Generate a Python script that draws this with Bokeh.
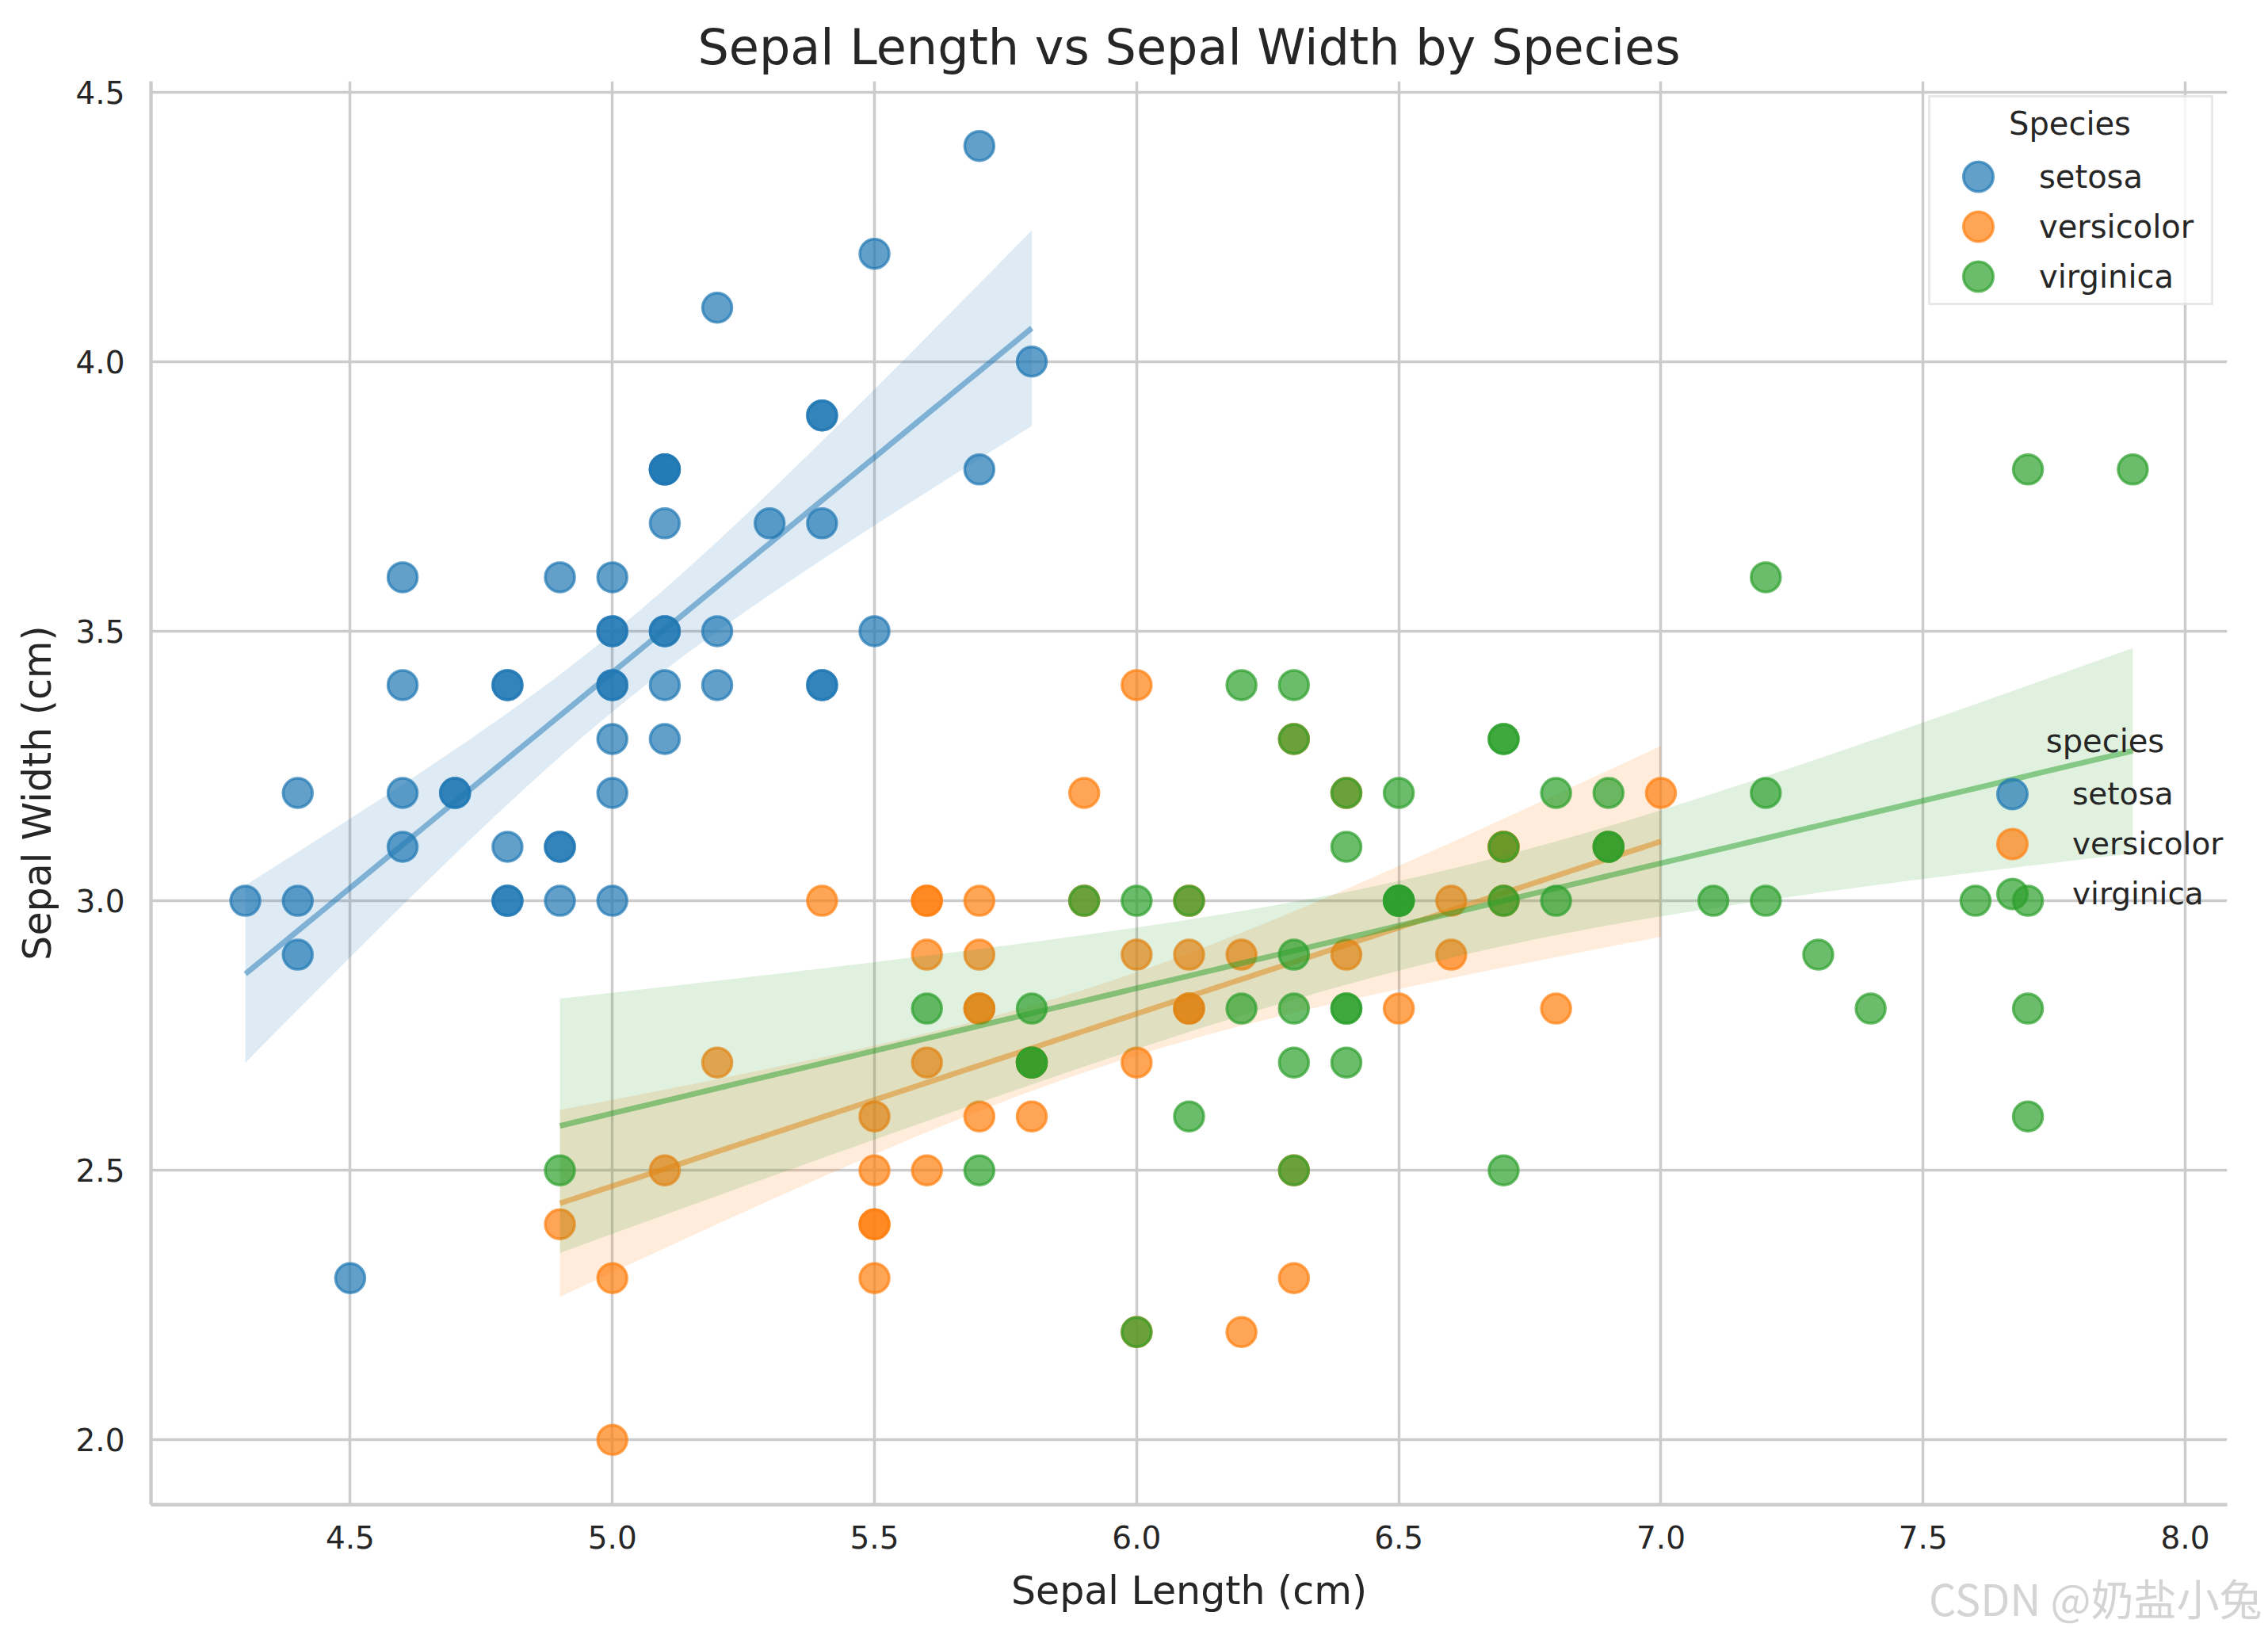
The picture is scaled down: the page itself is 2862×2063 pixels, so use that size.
import numpy as np
from bokeh.plotting import figure
from bokeh.models import FixedTicker, Legend, LegendItem, Label, Range1d, Title
from bokeh.embed import file_html
from bokeh.resources import INLINE

# ---------------- data (Iris: sepal length / sepal width) ----------------
species = ["setosa", "versicolor", "virginica"]
colors = ["#1f77b4", "#ff7f0e", "#2ca02c"]

setosa_length = [5.1, 4.9, 4.7, 4.6, 5.0, 5.4, 4.6, 5.0, 4.4, 4.9, 5.4, 4.8, 4.8, 4.3, 5.8,
                 5.7, 5.4, 5.1, 5.7, 5.1, 5.4, 5.1, 4.6, 5.1, 4.8, 5.0, 5.0, 5.2, 5.2, 4.7,
                 4.8, 5.4, 5.2, 5.5, 4.9, 5.0, 5.5, 4.9, 4.4, 5.1, 5.0, 4.5, 4.4, 5.0, 5.1,
                 4.8, 5.1, 4.6, 5.3, 5.0]
setosa_width = [3.5, 3.0, 3.2, 3.1, 3.6, 3.9, 3.4, 3.4, 2.9, 3.1, 3.7, 3.4, 3.0, 3.0, 4.0,
                4.4, 3.9, 3.5, 3.8, 3.8, 3.4, 3.7, 3.6, 3.3, 3.4, 3.0, 3.4, 3.5, 3.4, 3.2,
                3.1, 3.4, 4.1, 4.2, 3.1, 3.2, 3.5, 3.6, 3.0, 3.4, 3.5, 2.3, 3.2, 3.5, 3.8,
                3.0, 3.8, 3.2, 3.7, 3.3]

versicolor_length = [7.0, 6.4, 6.9, 5.5, 6.5, 5.7, 6.3, 4.9, 6.6, 5.2, 5.0, 5.9, 6.0, 6.1, 5.6,
                     6.7, 5.6, 5.8, 6.2, 5.6, 5.9, 6.1, 6.3, 6.1, 6.4, 6.6, 6.8, 6.7, 6.0, 5.7,
                     5.5, 5.5, 5.8, 6.0, 5.4, 6.0, 6.7, 6.3, 5.6, 5.5, 5.5, 6.1, 5.8, 5.0, 5.6,
                     5.7, 5.7, 6.2, 5.1, 5.7]
versicolor_width = [3.2, 3.2, 3.1, 2.3, 2.8, 2.8, 3.3, 2.4, 2.9, 2.7, 2.0, 3.0, 2.2, 2.9, 2.9,
                    3.1, 3.0, 2.7, 2.2, 2.5, 3.2, 2.8, 2.5, 2.8, 2.9, 3.0, 2.8, 3.0, 2.9, 2.6,
                    2.4, 2.4, 2.7, 2.7, 3.0, 3.4, 3.1, 2.3, 3.0, 2.5, 2.6, 3.0, 2.6, 2.3, 2.7,
                    3.0, 2.9, 2.9, 2.5, 2.8]

virginica_length = [6.3, 5.8, 7.1, 6.3, 6.5, 7.6, 4.9, 7.3, 6.7, 7.2, 6.5, 6.4, 6.8, 5.7, 5.8,
                    6.4, 6.5, 7.7, 7.7, 6.0, 6.9, 5.6, 7.7, 6.3, 6.7, 7.2, 6.2, 6.1, 6.4, 7.2,
                    7.4, 7.9, 6.4, 6.3, 6.1, 7.7, 6.3, 6.4, 6.0, 6.9, 6.7, 6.9, 5.8, 6.8, 6.7,
                    6.7, 6.3, 6.5, 6.2, 5.9]
virginica_width = [3.3, 2.7, 3.0, 2.9, 3.0, 3.0, 2.5, 2.9, 2.5, 3.6, 3.2, 2.7, 3.0, 2.5, 2.8,
                   3.2, 3.0, 3.8, 2.6, 2.2, 3.2, 2.8, 2.8, 2.7, 3.3, 3.2, 2.8, 3.0, 2.8, 3.0,
                   2.8, 3.8, 2.8, 2.8, 2.6, 3.0, 3.4, 3.1, 3.0, 3.1, 3.1, 3.1, 2.7, 3.2, 3.3,
                   3.0, 2.5, 3.0, 3.4, 3.0]

x_ticks = [4.5, 5.0, 5.5, 6.0, 6.5, 7.0, 7.5, 8.0]
x_tick_labels = ["4.5", "5.0", "5.5", "6.0", "6.5", "7.0", "7.5", "8.0"]
y_ticks = [2.0, 2.5, 3.0, 3.5, 4.0, 4.5]
y_tick_labels = ["2.0", "2.5", "3.0", "3.5", "4.0", "4.5"]

lengths = [setosa_length, versicolor_length, virginica_length]
widths = [setosa_width, versicolor_width, virginica_width]

# ---------------- styling ----------------
FONT = "DejaVu Sans"
TEXT = "#262626"
GRID = "#cccccc"
T975 = 2.0106  # t quantile, 48 dof, 95% CI

all_x = np.concatenate([np.array(a) for a in lengths])
all_y = np.concatenate([np.array(a) for a in widths])
xpad = 0.05 * (all_x.max() - all_x.min())
ypad = 0.05 * (all_y.max() - all_y.min())

p = figure(frame_width=2620, frame_height=1796,
           min_border_left=190, min_border_right=52, min_border_top=102, min_border_bottom=165,
           x_range=Range1d(all_x.min() - xpad, all_x.max() + xpad),
           y_range=Range1d(all_y.min() - ypad, all_y.max() + ypad),
           output_backend="svg", toolbar_location=None,
           background_fill_color="white", border_fill_color="white")
p.outline_line_color = None

p.title.text = "Sepal Length vs Sepal Width by Species"
p.title.text_font = FONT
p.title.text_font_size = "62px"
p.title.text_font_style = "normal"
p.title.text_color = TEXT
p.title.align = "center"
p.title.standoff = 14

p.xaxis.axis_label = "Sepal Length (cm)"
p.yaxis.axis_label = "Sepal Width (cm)"
p.xaxis.ticker = FixedTicker(ticks=x_ticks)
p.yaxis.ticker = FixedTicker(ticks=y_ticks)
p.xaxis.major_label_overrides = dict(zip(x_ticks, x_tick_labels))
p.yaxis.major_label_overrides = dict(zip(y_ticks, y_tick_labels))
p.xgrid.ticker = FixedTicker(ticks=x_ticks)
p.ygrid.ticker = FixedTicker(ticks=y_ticks)
for ax in (p.xaxis, p.yaxis):
    ax.axis_label_text_font = FONT
    ax.axis_label_text_font_size = "49px"
    ax.axis_label_text_font_style = "normal"
    ax.axis_label_text_color = TEXT
    ax.major_label_text_font = FONT
    ax.major_label_text_font_size = "39px"
    ax.major_label_text_color = TEXT
    ax.major_tick_line_color = None
    ax.minor_tick_line_color = None
    ax.major_tick_out = 0
    ax.major_tick_in = 0
    ax.axis_line_color = GRID
    ax.axis_line_width = 4.4
p.xaxis.major_label_standoff = 26
p.yaxis.major_label_standoff = 33
p.xaxis.axis_label_standoff = 22
p.yaxis.axis_label_standoff = 16
for g in (p.xgrid, p.ygrid):
    g.grid_line_color = GRID
    g.grid_line_width = 3.5

# ---------------- data marks ----------------
point_renderers = []
for xs_list, ys_list, c in zip(lengths, widths, colors):
    x = np.array(xs_list)
    y = np.array(ys_list)
    r = p.ellipse(x, y, width=37, height=37, width_units="screen", height_units="screen",
                  fill_color=c, fill_alpha=0.7, line_color=c, line_alpha=0.7, line_width=3.5)
    point_renderers.append(r)
    # least squares fit with 95% confidence band
    n = len(x)
    b, a = np.polyfit(x, y, 1)
    resid = y - (a + b * x)
    s = np.sqrt(np.sum(resid ** 2) / (n - 2))
    sxx = np.sum((x - x.mean()) ** 2)
    grid_x = np.linspace(x.min(), x.max(), 100)
    yhat = a + b * grid_x
    se = s * np.sqrt(1.0 / n + (grid_x - x.mean()) ** 2 / sxx)
    p.varea(x=grid_x, y1=yhat - T975 * se, y2=yhat + T975 * se,
            fill_color=c, fill_alpha=0.15)
    p.line(grid_x, yhat, line_color=c, line_alpha=0.5, line_width=7)

# ---------------- legends ----------------
legend_in = Legend(
    items=[LegendItem(label=s_, renderers=[r]) for s_, r in zip(species, point_renderers)],
    location=(2243, 1513), title="\u00a0" * 7 + "Species",
    title_text_font=FONT, title_text_font_size="40px", title_text_color=TEXT,
    title_text_font_style="normal",
    title_standoff=20, padding=10, margin=0, spacing=16,
    glyph_width=100, glyph_height=47, label_standoff=27, label_width=207,
    label_text_font=FONT, label_text_font_size="40px", label_text_color=TEXT,
    border_line_color="#d0d0d0", border_line_width=3,
    background_fill_color="white", background_fill_alpha=0.8)
p.add_layout(legend_in, "center")

legend_out = Legend(
    items=[LegendItem(label=s_, renderers=[r]) for s_, r in zip(species, point_renderers)],
    location=(2289, 747), padding=0, margin=0, spacing=16,
    glyph_width=120, glyph_height=47, label_standoff=16,
    label_text_font=FONT, label_text_font_size="39px", label_text_color=TEXT,
    border_line_alpha=0, background_fill_alpha=0)
p.add_layout(legend_out, "center")

p.add_layout(Label(x=2466, y=964, x_units="screen", y_units="screen", text="species",
                   text_font=FONT, text_font_size="40px", text_color=TEXT, level="overlay",
                   text_align="center", text_baseline="alphabetic"))

watermark = Title(text="CSDN @奶盐小兔", align="right", vertical_align="top",
                  offset=-44, standoff=-126, text_font="Noto Sans CJK SC",
                  text_font_size="54px", text_font_style="normal", text_color="#d4d4d4")
p.add_layout(watermark, "below")

open("out.html", "w").write(file_html(p, INLINE))
